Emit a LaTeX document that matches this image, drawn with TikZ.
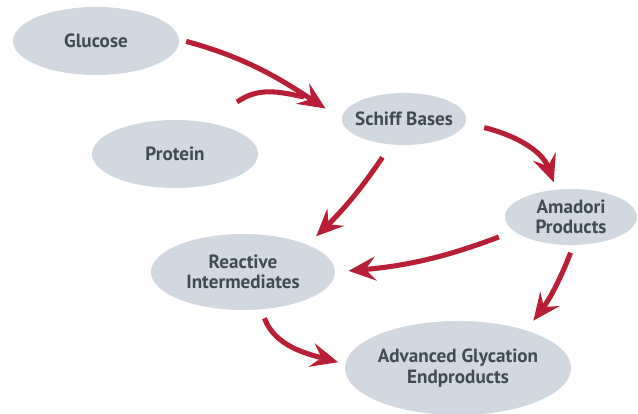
\documentclass[tikz,border=0pt]{standalone}
\usepackage{fontspec}
\setmainfont{PT Sans}
\usepackage{tikz}
\usetikzlibrary{shapes.geometric, arrows, arrows.meta}
\usepackage{xcolor}
\definecolor{blobgray}{HTML}{D1D8DF}
\definecolor{inkgray}{HTML}{3F4B57}
\definecolor{arrowred}{HTML}{B81F36}

\begin{document}
\begin{tikzpicture}[x=0.025cm, y=0.025cm,
        compound/.style={ellipse, fill=blobgray, text=inkgray, align=center, inner sep=0pt,
            font=\bfseries\fontsize{13.6}{14.6}\selectfont},
        reaction/.style={draw=arrowred, line width=3.6pt,
            -{Stealth[length=0.68cm, width=0.6cm, inset=0.25cm]}}]
        \useasboundingbox (0,0) rectangle (638,414);

        % The compounds
        \node[compound, minimum width=4.15cm, minimum height=1.7cm] (glucose) at (96,373) {Glucose};
        \node[compound, minimum width=4.15cm, minimum height=1.7cm] (protein) at (175,260) {Protein};
        \node[compound, inner xsep=-0.15cm, minimum width=3.1cm, minimum height=1.3cm] (schiff) at (404,295) {Schiff Bases};
        \node[compound, minimum width=3.3cm, minimum height=1.4cm] (amadori) at (571,197) {Amadori\\Products};
        \node[compound, minimum width=4.6cm, minimum height=1.9cm] (reactive) at (243,142) {Reactive\\Intermediates};
        \node[compound, inner xsep=-0.06cm, minimum width=5.65cm, minimum height=2.35cm] (age) at (458,46) {Advanced Glycation\\Endproducts};

        % Ends of the protein arc
        \coordinate (bond) at (237,312);
        \coordinate (join) at (304,317);

        % The reactions
        \draw[reaction, shorten <=0.18cm, shorten >=0.48cm] (glucose.1) to[out=-15, in=147] (schiff.180);
        \draw[draw=arrowred, line width=3.6pt] (bond) to[out=35, in=168] (join);
        \draw[reaction, shorten <=0.48cm, shorten >=0.19cm] (schiff.-4) to[out=-13, in=110] (amadori.118);
        \draw[reaction, shorten <=0.38cm, shorten >=0.3cm] (schiff.243) to[bend left=6] (reactive.23);
        \draw[reaction, shorten <=0.4cm, shorten >=0.33cm] (amadori.194) to[bend left=8] (reactive.0);
        \draw[reaction, shorten <=0.2cm, shorten >=0.3cm] (amadori.275) to[bend left=8] (age.29);
        \draw[reaction, shorten <=0.23cm, shorten >=0.18cm] (reactive.-64) to[out=-70, in=165] (age.178);
    \end{tikzpicture}
\end{document}
